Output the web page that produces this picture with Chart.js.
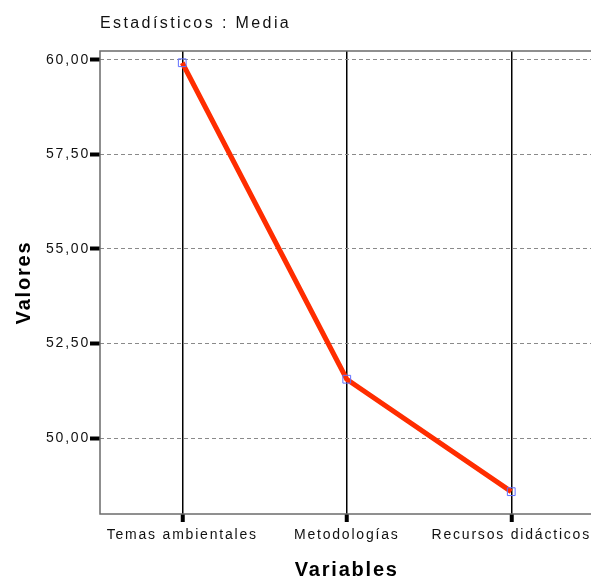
<!DOCTYPE html>
<html>
<head>
<meta charset="utf-8">
<script src="https://cdn.jsdelivr.net/npm/chart.js@4.4.1/dist/chart.umd.min.js"></script>
<style>
  html, body { margin: 0; padding: 0; background: #fff; overflow: hidden; }
  #chart { position: absolute; left: 0; top: 0; }
</style>
</head>
<body>
<canvas id="chart" width="600" height="586"></canvas>
<script>
const categories = ['Temas ambientales', 'Metodologías', 'Recursos didácticos']
const medias = [59.92, 51.56, 48.59]
const yTicks = [50, 52.5, 55, 57.5, 60]
const chartTitle = 'Estadísticos : Media'

const FONT = '"Liberation Sans", Arial, sans-serif'

// SPSS-style box, spaced text and the title above the plot
const spssLook = {
  id: 'spssLook',
  beforeDraw (chart) {
    chart.ctx.letterSpacing = '1.8px'
  },
  afterDraw (chart) {
    const { ctx, chartArea } = chart
    ctx.save()
    ctx.strokeStyle = '#6b6b6b'
    ctx.lineWidth = 1.5
    ctx.strokeRect(chartArea.left, chartArea.top, chartArea.right - chartArea.left, chartArea.bottom - chartArea.top)
    ctx.fillStyle = '#111'
    ctx.font = '16px ' + FONT
    ctx.letterSpacing = '2.4px'
    ctx.textBaseline = 'alphabetic'
    ctx.fillText(chartTitle, chartArea.left, 28)
    ctx.restore()
  }
}

const chart = new Chart(
  document.getElementById('chart').getContext('2d'),
  {
    type: 'line',
    data: {
      labels: categories,
      datasets: [
        {
          label: 'Media',
          data: medias,
          borderColor: '#ff2d00',
          borderWidth: 5,
          tension: 0,
          pointStyle: 'rect',
          pointRadius: 5.5,
          pointBorderWidth: 1,
          pointBorderColor: '#5f6fff',
          pointBackgroundColor: 'rgba(0,0,0,0)'
        }
      ]
    },
    options: {
      responsive: false,
      animation: false,
      layout: { padding: { top: 51, right: 1, left: 0, bottom: 0 } },
      scales: {
        x: {
          offset: true,
          afterFit (scale) { scale.height = 72 },
          grid: {
            offset: false,
            color: '#000',
            lineWidth: 1.5,
            tickColor: '#000',
            tickWidth: 4,
            tickLength: 8
          },
          border: { display: false },
          ticks: {
            padding: 5,
            color: '#111',
            font: { family: FONT, size: 14 },
            maxRotation: 0
          },
          title: {
            display: true,
            text: 'Variables',
            color: '#000',
            padding: 4,
            font: { family: FONT, size: 20, weight: 'bold' }
          }
        },
        y: {
          min: 48,
          max: 60.23,
          afterFit (scale) { scale.width = 100 },
          afterBuildTicks (scale) {
            scale.ticks = yTicks.map(v => ({ value: v }))
          },
          grid: {
            color: '#8a8a8a',
            lineWidth: 1,
            tickColor: '#000',
            tickWidth: 4,
            tickLength: 10,
            tickBorderDash: []
          },
          border: { display: false, dash: [4, 3] },
          ticks: {
            padding: 0,
            color: '#111',
            font: { family: FONT, size: 14 },
            callback: function (value) {
              return value.toFixed(2).replace('.', ',')
            }
          },
          title: {
            display: true,
            text: 'Valores',
            color: '#000',
            padding: 12,
            font: { family: FONT, size: 20, weight: 'bold' }
          }
        }
      },
      plugins: {
        legend: { display: false },
        title: { display: false },
        tooltip: { enabled: false }
      }
    },
    plugins: [spssLook]
  }
)
</script>
</body>
</html>
